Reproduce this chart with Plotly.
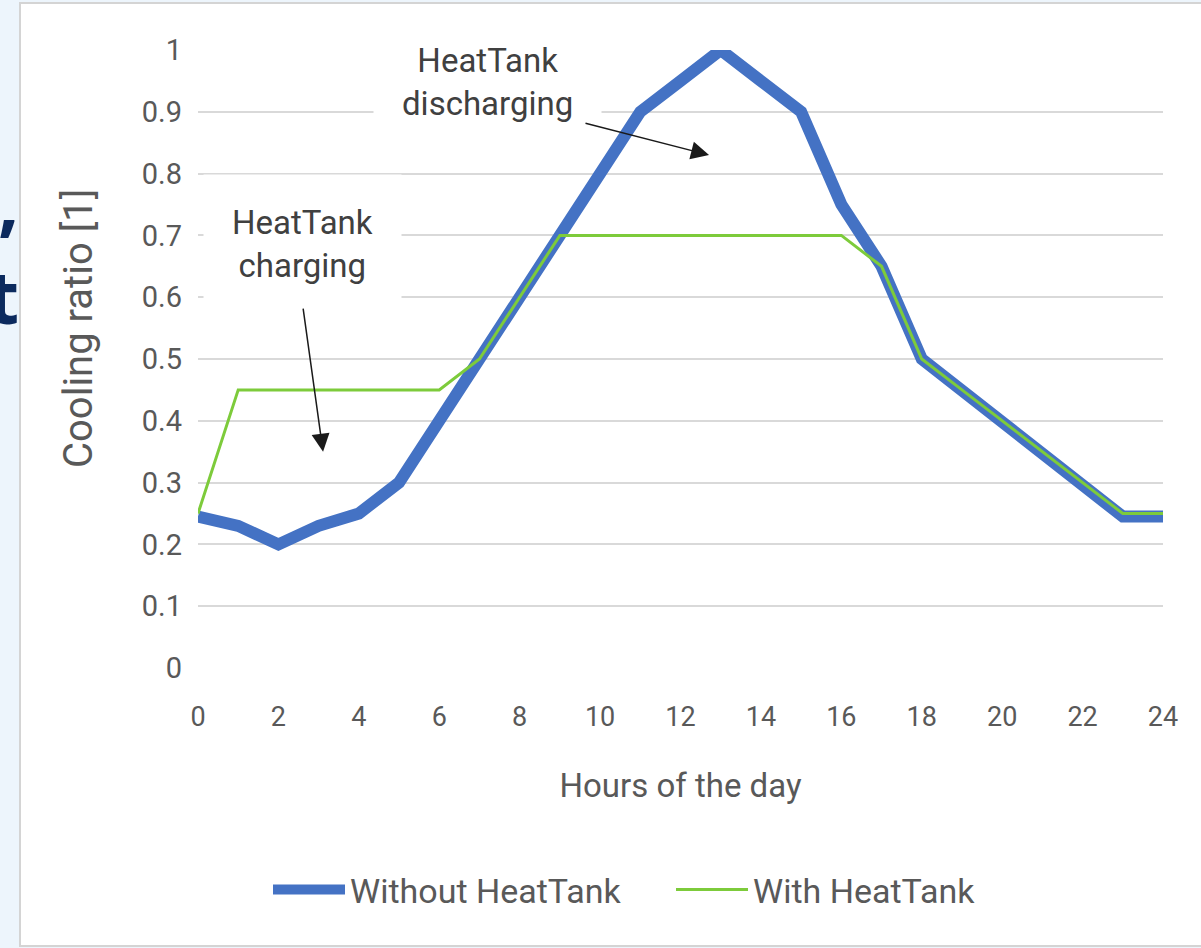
import plotly.graph_objects as go

hours = list(range(25))
without_tank = [0.245, 0.23, 0.2, 0.23, 0.25, 0.3, 0.4, 0.5, 0.6, 0.7, 0.8, 0.9, 0.95,
                1.0, 0.95, 0.9, 0.75, 0.65, 0.5, 0.45, 0.4, 0.35, 0.3, 0.245, 0.245]
with_tank = [0.25, 0.45, 0.45, 0.45, 0.45, 0.45, 0.45, 0.5, 0.6, 0.7, 0.7, 0.7, 0.7,
             0.7, 0.7, 0.7, 0.7, 0.65, 0.5, 0.45, 0.4, 0.35, 0.3, 0.25, 0.25]
x_ticks = list(range(0, 25, 2))
y_ticks = [0, 0.1, 0.2, 0.3, 0.4, 0.5, 0.6, 0.7, 0.8, 0.9, 1]
y_tick_text = ["0", "0.1", "0.2", "0.3", "0.4", "0.5", "0.6", "0.7", "0.8", "0.9", "1"]

W, H = 1201, 948
L, R, T, B = 198, 38, 50, 280
pw, ph = W - L - R, H - T - B

def px_x(p):  # page pixel -> paper x
    return (p - L) / pw

def px_y(p):  # page pixel -> paper y
    return (H - B - p) / ph

FONT = "Roboto, Liberation Sans, sans-serif"
GRAY = "#595959"

fig = go.Figure()
fig.add_trace(go.Scatter(x=hours, y=without_tank, mode="lines", name="Without HeatTank",
                         line=dict(color="#4472C4", width=12)))
fig.add_trace(go.Scatter(x=hours, y=with_tank, mode="lines", name="With HeatTank",
                         line=dict(color="#7DCB3B", width=3)))

shapes = [dict(type="rect", xref="paper", yref="paper",
               x0=px_x(20), x1=px_x(1210), y0=px_y(946), y1=px_y(3),
               fillcolor="white", line=dict(color="#d4d4d4", width=2), layer="below")]

annotations = [
    dict(x=px_x(78), y=px_y(329), xref="paper", yref="paper", text="Cooling ratio [1]",
         xanchor="center", yanchor="middle",
         textangle=-90, showarrow=False, font=dict(size=40, color=GRAY, family=FONT)),
    dict(x=2.61, y=0.686, xref="x", yref="y", text="HeatTank<br>charging", showarrow=False,
         bgcolor="white", borderpad=28,
         font=dict(size=33, color="#404040", family=FONT)),
    dict(x=7.21, y=0.948, xref="x", yref="y", text="HeatTank<br>discharging", showarrow=False,
         bgcolor="white", borderpad=28,
         font=dict(size=33, color="#404040", family=FONT)),
    dict(x=3.11, y=0.35, xref="x", yref="y", ax=2.61, ay=0.584, axref="x", ayref="y",
         text="", showarrow=True, arrowhead=2, arrowsize=2.4, arrowwidth=1.5, arrowcolor="#1a1a1a"),
    dict(x=12.71, y=0.83, xref="x", yref="y", ax=9.60, ay=0.882, axref="x", ayref="y",
         text="", showarrow=True, arrowhead=2, arrowsize=2.4, arrowwidth=1.5, arrowcolor="#1a1a1a"),
    dict(x=px_x(21), y=px_y(248), xref="paper", yref="paper", text="<b>,</b><br><b>t</b>",
         showarrow=False, xanchor="right", yanchor="middle", align="right",
         font=dict(size=74, color="#0B2A5E", family="Noto Sans")),
]

fig.update_layout(
    width=W, height=H,
    margin=dict(l=L, r=R, t=T, b=B, autoexpand=False),
    paper_bgcolor="#EDF5FC", plot_bgcolor="white",
    font=dict(family=FONT, color=GRAY, size=28),
    shapes=shapes, annotations=annotations,
    showlegend=True,
    legend=dict(orientation="h", x=px_x(268), xanchor="left", y=px_y(890), yanchor="middle",
                font=dict(size=34, color=GRAY, family=FONT), itemwidth=72,
                entrywidth=316, entrywidthmode="pixels",
                bgcolor="rgba(0,0,0,0)"),
)
fig.update_xaxes(range=[0, 24], tickvals=x_ticks, showgrid=False, zeroline=False,
                 showline=False, ticks="", ticklabelstandoff=30,
                 title=dict(text="Hours of the day", standoff=41, font=dict(size=33)),
                 tickfont=dict(size=27))
fig.update_yaxes(range=[0, 1.0], tickvals=y_ticks, ticktext=y_tick_text, showgrid=True,
                 gridcolor="#D9D9D9", gridwidth=2, zeroline=False, showline=False,
                 ticks="", ticklabelstandoff=15,
                 tickfont=dict(size=29))

fig.write_html("out.html", config={"displayModeBar": False},
               post_script="document.body.style.margin='0px';")
